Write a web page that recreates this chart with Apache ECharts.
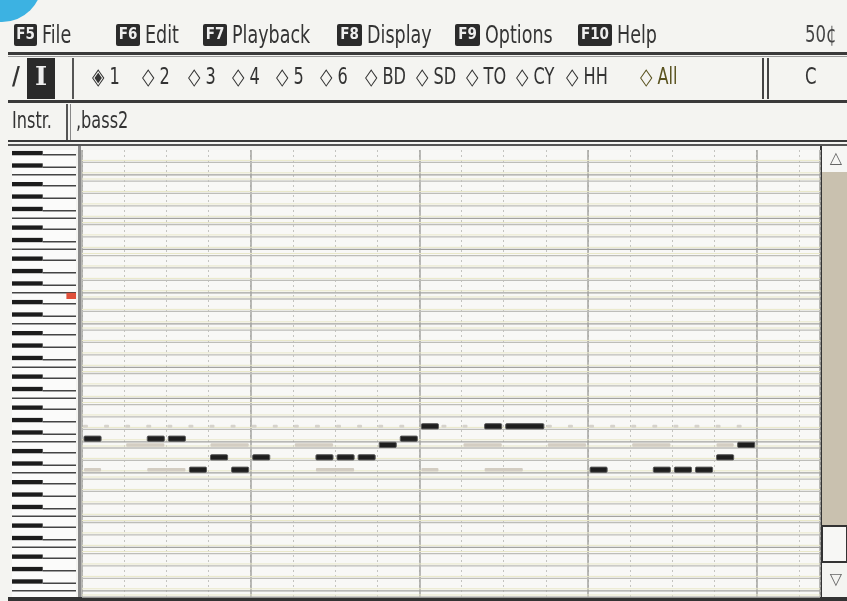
<!DOCTYPE html>
<html><head><meta charset="utf-8">
<script src="https://cdn.jsdelivr.net/npm/echarts@6/dist/echarts.min.js"></script>
<style>html,body{margin:0;padding:0;background:#f4f4f1;}#c{width:847px;height:601px;}</style>
</head><body><div id="c"></div>
<script>
// ---------- data ----------
const menuKeys = ['F5', 'F6', 'F7', 'F8', 'F9', 'F10'];
const menuItems = ['File', 'Edit', 'Playback', 'Display', 'Options', 'Help'];
const channelLabels = ['1', '2', '3', '4', '5', '6', 'BD', 'SD', 'TO', 'CY', 'HH', 'All'];
const selectedChannel = '1';
const instrumentName = ',bass2';
const keyName = 'C';
// time in eighth-note steps, pitch as MIDI number
const noteStart  = [0, 3, 4, 5, 6, 7, 8, 11, 12, 13, 14, 15, 16, 19, 20, 24, 27, 28, 29, 30, 31];
const noteLength = [1, 1, 1, 1, 1, 1, 1, 1, 1, 1, 1, 1, 1, 1, 2, 1, 1, 1, 1, 1, 1];
const notePitch  = [41, 41, 41, 36, 38, 36, 38, 38, 38, 38, 40, 41, 43, 43, 43, 36, 36, 36, 36, 38, 40];
// faint notes of other channels
const ghostStart  = [2, 6, 10, 18, 22, 26, 30, 0, 3, 11, 16, 19];
const ghostLength = [2, 2, 2, 2, 2, 2, 1, 1, 2, 2, 1, 2];
const ghostPitch  = [40, 40, 40, 40, 40, 40, 40, 36, 36, 36, 36, 36];
// short faint ticks of another channel (G row)
const tickStart = [0, 1, 2, 3, 4, 5, 6, 7, 8, 9, 10, 11, 12, 13, 14, 15, 17, 18, 22, 23, 24, 25, 26, 27, 28, 29, 30, 31];
const tickPitch = 43;
const markerPitch = [64];
const lowestKey = 16, highestKey = 88, totalSteps = 35;

// ---------- build ----------
const keys = [];
for (let p = lowestKey; p < highestKey; p++) keys.push([p]);
const isBlack = p => [1, 3, 6, 8, 10].indexOf(p % 12) >= 0;
const notes = noteStart.map((s, i) => [s, noteLength[i], notePitch[i]]);
const ghosts = ghostStart.map((s, i) => [s, ghostLength[i], ghostPitch[i]]);
const ticks = tickStart.map(s => [s, 0.33, tickPitch]);

const chart = echarts.init(document.getElementById('c'), null, {renderer: 'canvas'});
const FONT = '"DejaVu Sans Condensed","DejaVu Sans",sans-serif';
const g = [];
function label(text, x, y, size, color, sx, extra) {
  const el = {type: 'text', x: x, y: y, scaleX: sx, style: Object.assign({text: text, x: 0, y: 0, verticalAlign: 'middle', fill: color, font: size + 'px ' + FONT}, extra || {})};
  g.push(el);
}
// blue corner
g.push({type: 'circle', shape: {cx: 2, cy: -18, r: 40}, style: {fill: '#3cb2e2'}, z: 10});
// menu
const keyX = [14, 116, 203, 337, 455, 578];
const keyW = [23, 24, 24, 25, 25, 34];
menuKeys.forEach((k, i) => {
  g.push({type: 'rect', shape: {x: keyX[i], y: 24, width: keyW[i], height: 22, r: 2}, style: {fill: '#2b2b2b'}});
  g.push({type: 'text', style: {text: k, x: keyX[i] + keyW[i] / 2, y: 35, align: 'center', verticalAlign: 'middle', fill: '#eeeeee', font: 'bold 15px ' + FONT}});
  label(menuItems[i], keyX[i] + keyW[i] + 5, 36, 25, '#343434', 0.78);
});
label('50¢', 805, 36, 23, '#444', 0.8);
// separators
g.push({type: 'rect', shape: {x: 8, y: 52, width: 839, height: 3}, style: {fill: '#3a3a3a'}});
g.push({type: 'rect', shape: {x: 8, y: 56, width: 839, height: 1}, style: {fill: '#9a9a9a'}});
// toolbar
label('/', 12, 78, 24, '#333', 1, {font: 'bold 24px ' + FONT});
g.push({type: 'rect', shape: {x: 27, y: 58, width: 28, height: 41}, style: {fill: '#2a2a2a'}});
g.push({type: 'text', style: {text: 'I', x: 41, y: 78, align: 'center', verticalAlign: 'middle', fill: '#eee', font: 'bold 26px "DejaVu Serif",serif'}});
g.push({type: 'rect', shape: {x: 72, y: 58, width: 2, height: 41}, style: {fill: '#555'}});
g.push({type: 'rect', shape: {x: 762, y: 58, width: 2, height: 41}, style: {fill: '#444'}});
g.push({type: 'rect', shape: {x: 767, y: 58, width: 2, height: 41}, style: {fill: '#444'}});
const chanX = [92, 142, 188, 232, 276, 320, 365, 416, 466, 516, 566, 640];
channelLabels.forEach((c, i) => {
  label((c === selectedChannel ? '◈ ' : '◇ ') + c, chanX[i], 78, 23, c === 'All' ? '#5a5320' : '#333', 0.78);
});
label(keyName, 805, 78, 23, '#333', 0.8);
g.push({type: 'rect', shape: {x: 8, y: 100, width: 839, height: 3}, style: {fill: '#3a3a3a'}});
// instrument row
label('Instr.', 12, 122, 23, '#333', 0.78);
g.push({type: 'rect', shape: {x: 66, y: 104, width: 2, height: 36}, style: {fill: '#555'}});
g.push({type: 'rect', shape: {x: 70, y: 104, width: 1, height: 36}, style: {fill: '#888'}});
label(instrumentName, 76, 122, 23, '#333', 0.78);
g.push({type: 'rect', shape: {x: 8, y: 140, width: 839, height: 2}, style: {fill: '#3a3a3a'}});
g.push({type: 'rect', shape: {x: 8, y: 144, width: 839, height: 2}, style: {fill: '#555'}});
// keyboard / grid separator
g.push({type: 'rect', shape: {x: 78, y: 146, width: 3, height: 452}, style: {fill: '#8a8a8a'}});
// scrollbar
g.push({type: 'rect', shape: {x: 820, y: 146, width: 2, height: 452}, style: {fill: '#333'}});
g.push({type: 'rect', shape: {x: 822, y: 146, width: 25, height: 26}, style: {fill: '#f6f6f4'}});
g.push({type: 'text', style: {text: '△', x: 836, y: 159, align: 'center', verticalAlign: 'middle', fill: '#666', font: '16px "DejaVu Sans"'}});
g.push({type: 'rect', shape: {x: 822, y: 172, width: 25, height: 355}, style: {fill: '#c9c1af'}});
g.push({type: 'rect', shape: {x: 822, y: 526, width: 25, height: 36}, style: {fill: '#f7f7f5', stroke: '#333', lineWidth: 2}});
g.push({type: 'text', style: {text: '▽', x: 836, y: 580, align: 'center', verticalAlign: 'middle', fill: '#666', font: '16px "DejaVu Sans"'}});
g.push({type: 'rect', shape: {x: 8, y: 597, width: 839, height: 4}, style: {fill: '#333'}});

function noteItem(fill, stroke, lo, hi, inset) {
  return (params, api) => {
    const s = api.value(0), l = api.value(1), p = api.value(2);
    const a = api.coord([s, p + hi]), b = api.coord([s + l, p + lo]);
    return {type: 'rect', shape: {x: a[0] + inset, y: a[1], width: b[0] - a[0] - 2 * inset, height: b[1] - a[1], r: 1},
      style: {fill: fill, stroke: stroke, lineWidth: stroke ? 1 : 0}};
  };
}

const option = {
  backgroundColor: '#f4f4f1',
  animation: false,
  graphic: g,
  grid: [
    {left: 82, top: 150, width: 738, height: 447, show: true, backgroundColor: '#f8f8f6', borderWidth: 0},
    {left: 12, top: 150, width: 64, height: 447, show: true, backgroundColor: '#fbfbfa', borderWidth: 0}
  ],
  xAxis: [
    {gridIndex: 0, type: 'value', min: 0, max: totalSteps, interval: 2, axisLabel: {show: false}, axisTick: {show: false}, axisLine: {show: false},
      splitLine: {show: true, lineStyle: {color: '#c4c4c0', type: [2, 3], width: 1}}},
    {gridIndex: 0, type: 'value', min: 0, max: totalSteps, interval: 8, axisLabel: {show: false}, axisTick: {show: false}, axisLine: {show: false},
      splitLine: {show: true, lineStyle: {color: '#a5a5a1', width: 1.5}}},
    {gridIndex: 1, type: 'value', min: 0, max: 1, show: false}
  ],
  yAxis: [
    {gridIndex: 0, type: 'value', min: lowestKey, max: highestKey, show: false, splitLine: {show: false}},
    {gridIndex: 1, type: 'value', min: lowestKey, max: highestKey, show: false, splitLine: {show: false}}
  ],
  series: [
    { // horizontal pitch lines
      type: 'custom', xAxisIndex: 0, yAxisIndex: 0, data: keys, silent: true, z: 1,
      renderItem: (params, api) => {
        const p = api.value(0);
        if (isBlack(p)) return null;
        const a = api.coord([0, p]), b = api.coord([totalSteps, p]);
        const strong = (p % 12 === 0 || p % 12 === 5);
        return {type: 'group', children: [
          {type: 'line', shape: {x1: a[0], y1: a[1], x2: b[0], y2: b[1]}, style: {stroke: strong ? '#a3a3a0' : '#bdbdb9', lineWidth: 1.3}},
          {type: 'line', shape: {x1: a[0], y1: a[1] - 2, x2: b[0], y2: b[1] - 2}, style: {stroke: '#e9e8c8', lineWidth: 1}}
        ]};
      }
    },
    { // ghost notes
      type: 'custom', xAxisIndex: 0, yAxisIndex: 0, data: ghosts, z: 2, encode: {x: [0, 1], y: 2},
      renderItem: noteItem('#d3cdc2', null, 0.22, 0.78, 2)
    },
    { // ghost ticks
      type: 'custom', xAxisIndex: 0, yAxisIndex: 0, data: ticks, z: 2, encode: {x: [0, 1], y: 2},
      renderItem: noteItem('#d6d3cc', null, 0.25, 0.75, 1)
    },
    { // notes
      type: 'custom', xAxisIndex: 0, yAxisIndex: 0, data: notes, z: 3, encode: {x: [0, 1], y: 2},
      renderItem: noteItem('#1e1e1e', '#5a5a5a', 0.08, 0.92, 2)
    },
    { // keyboard
      type: 'custom', xAxisIndex: 2, yAxisIndex: 1, data: keys, silent: true, z: 2,
      renderItem: (params, api) => {
        const p = api.value(0);
        const lo = api.coord([0, p]), hi = api.coord([1, p + 1]);
        if (isBlack(p)) {
          const top = api.coord([0, p + 0.85]), bot = api.coord([0.48, p + 0.15]);
          return {type: 'group', children: [
            {type: 'rect', shape: {x: top[0], y: top[1], width: bot[0] - top[0], height: bot[1] - top[1]}, style: {fill: '#1c1c1c'}},
            {type: 'line', shape: {x1: bot[0], y1: bot[1] - 0.5, x2: hi[0], y2: bot[1] - 0.5}, style: {stroke: '#444', lineWidth: 1.5}}
          ]};
        }
        if (p % 12 === 0 || p % 12 === 5) {
          return {type: 'line', shape: {x1: lo[0], y1: lo[1], x2: hi[0], y2: lo[1]}, style: {stroke: '#444', lineWidth: 1.5}};
        }
        return null;
      }
    },
    { // pitch marker
      type: 'custom', xAxisIndex: 2, yAxisIndex: 1, data: markerPitch.map(p => [p]), z: 4,
      renderItem: (params, api) => {
        const p = api.value(0);
        const a = api.coord([0.85, p + 1]), b = api.coord([1, p]);
        return {type: 'rect', shape: {x: a[0], y: a[1], width: b[0] - a[0], height: b[1] - a[1]}, style: {fill: '#e0503a'}};
      }
    }
  ]
};
chart.setOption(option);
</script></body></html>
